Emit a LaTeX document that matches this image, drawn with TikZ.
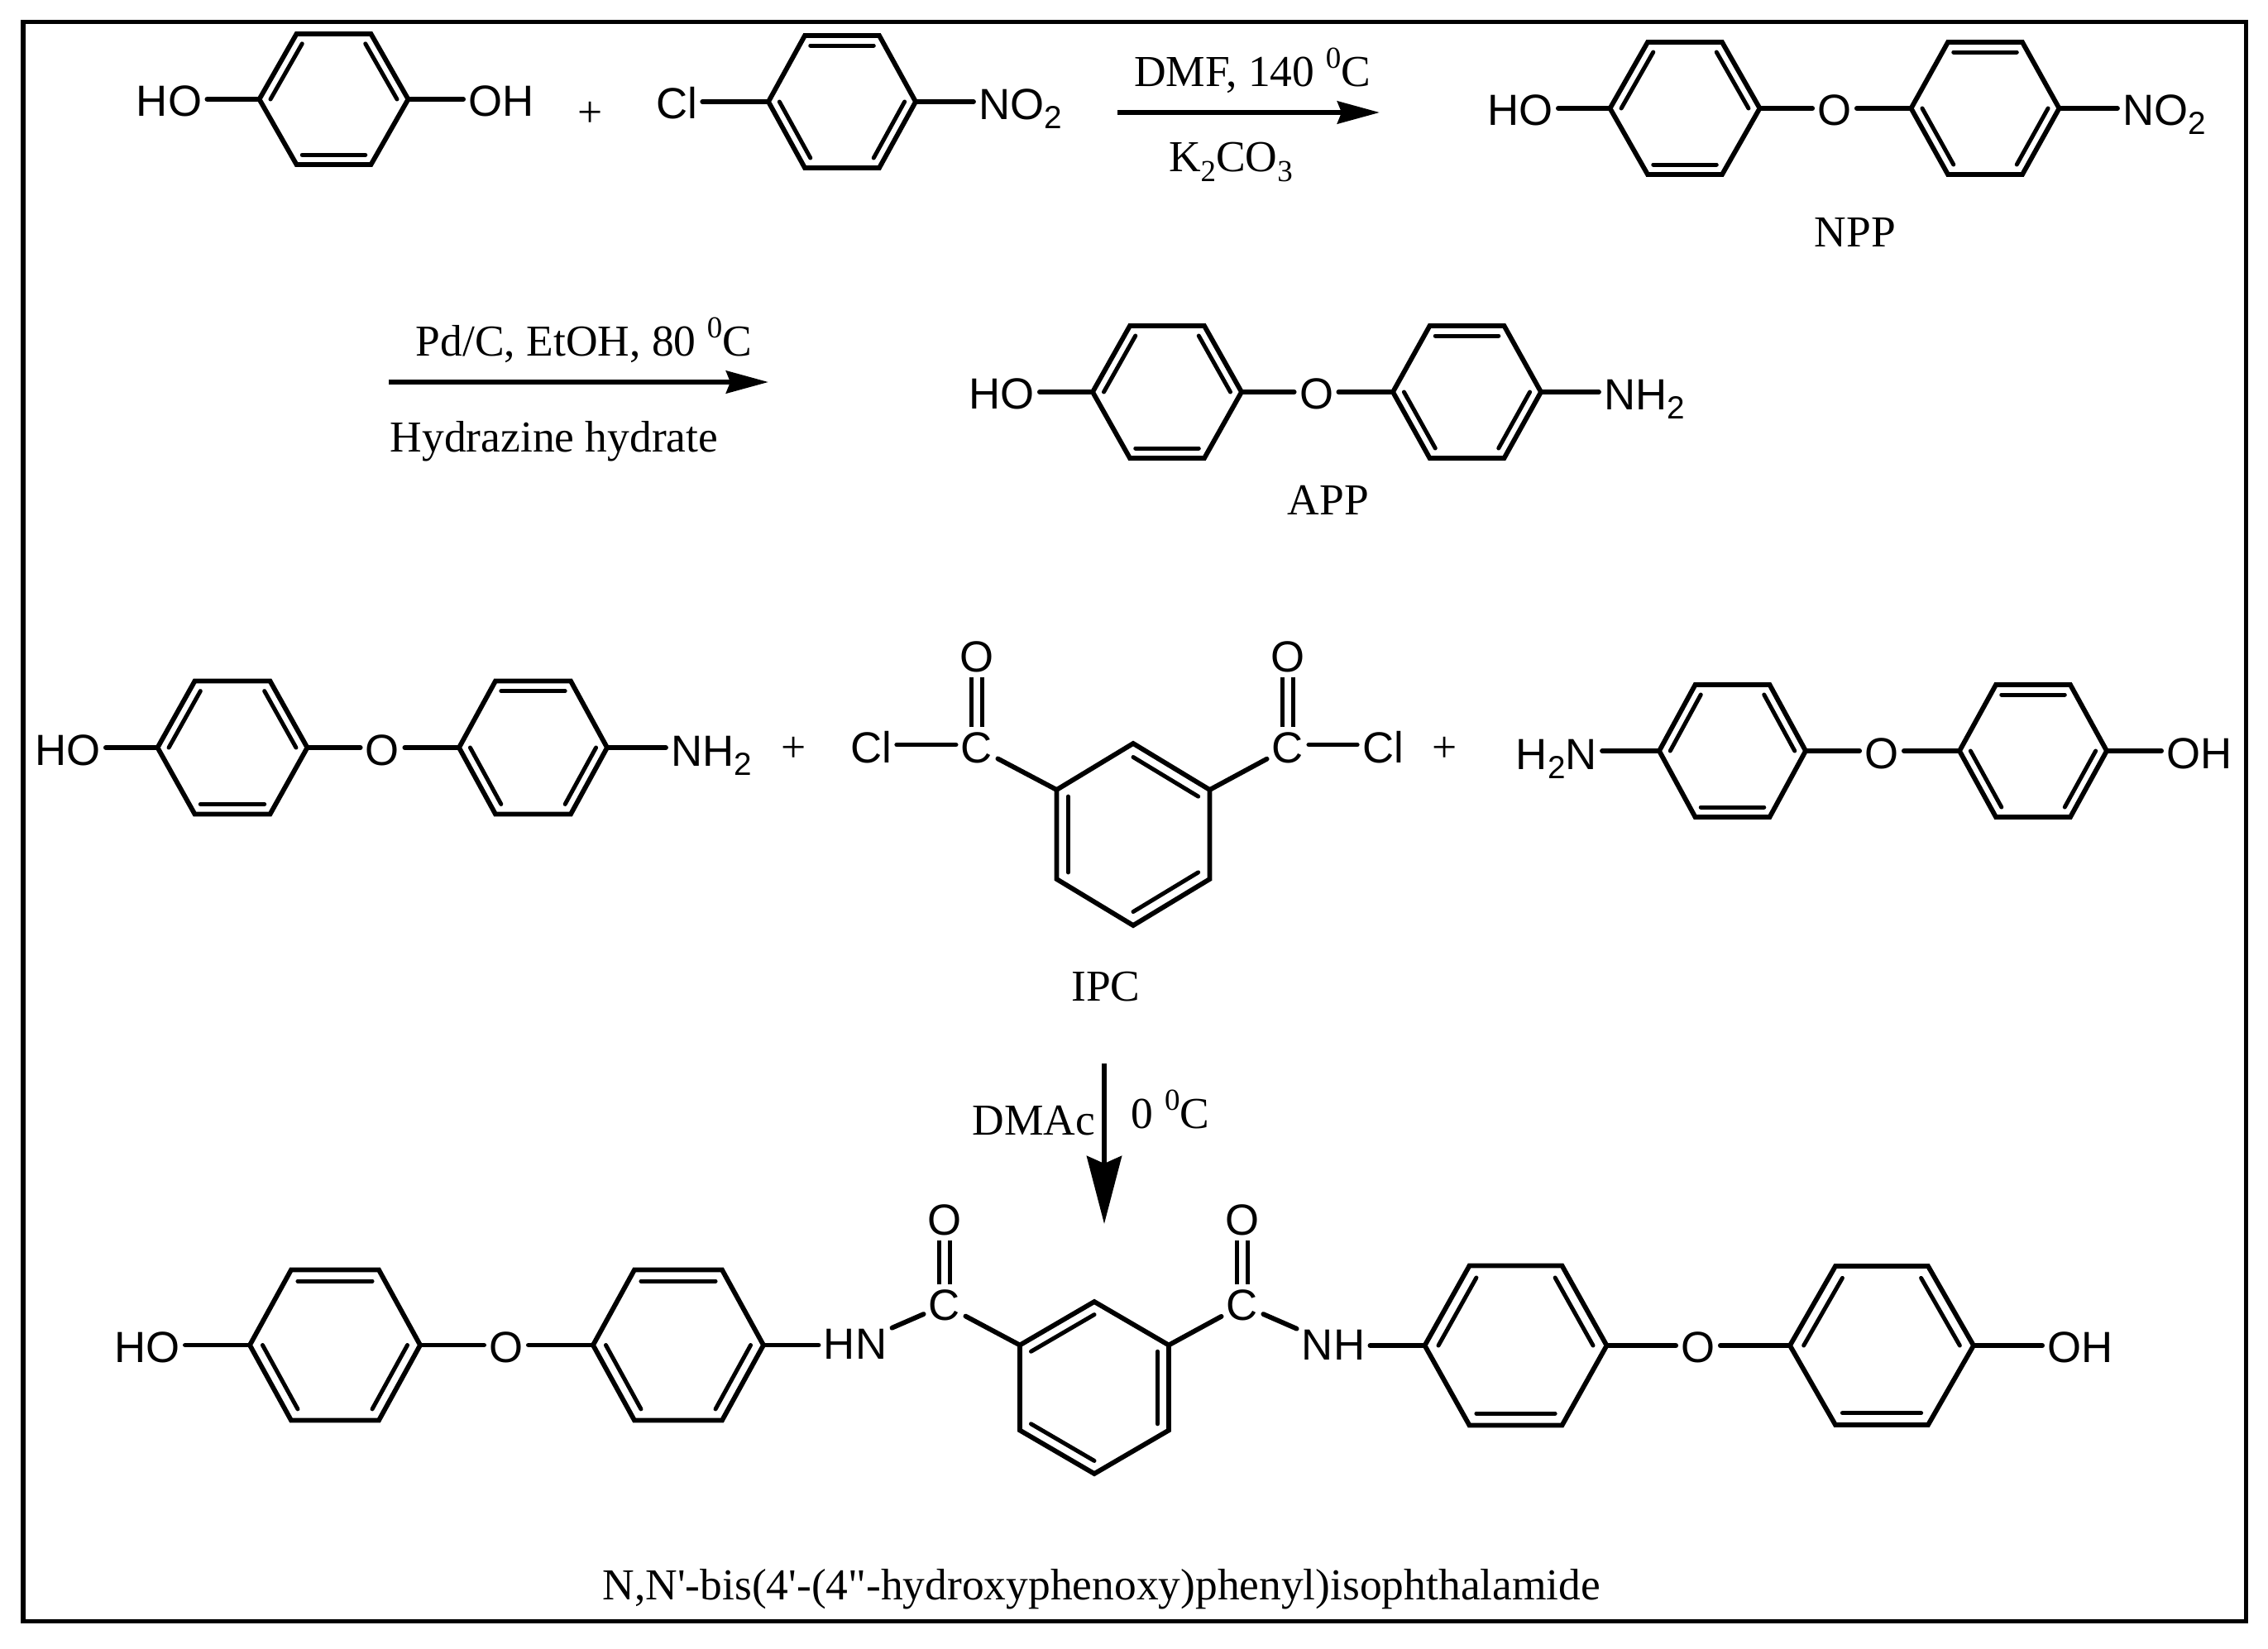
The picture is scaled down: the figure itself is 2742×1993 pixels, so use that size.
\documentclass[tikz,border=0pt]{standalone}
\usepackage{fontspec}
\setmainfont{Liberation Serif}
\newfontfamily\sansf{Liberation Sans}
\newfontfamily\plainserif[Ligatures=NoCommon]{Liberation Serif}
\usetikzlibrary{calc,arrows.meta}
\newcommand{\atsub}[1]{\raisebox{-3.3pt}{\fontsize{11}{12}\selectfont #1}}
\newcommand{\txsub}[1]{\raisebox{-3.6pt}{\fontsize{10.5}{12}\selectfont #1}}
\newcommand{\txsup}[1]{\raisebox{6pt}{\fontsize{10.5}{12}\selectfont #1}}
\newcommand{\innerb}[3]{\draw[innerbond] ($(#1)!0.85!(#1-#2)$) -- ($(#1)!0.85!(#1-#3)$);}
% name, cx, cy, half width, half height, half width of top edge
\newcommand{\hexbase}[6]{%
  \coordinate (#1) at (#2,#3);
  \coordinate (#1-L) at ({#2-#4},#3);
  \coordinate (#1-TL) at ({#2-#6},{#3-#5});
  \coordinate (#1-TR) at ({#2+#6},{#3-#5});
  \coordinate (#1-R) at ({#2+#4},#3);
  \coordinate (#1-BR) at ({#2+#6},{#3+#5});
  \coordinate (#1-BL) at ({#2-#6},{#3+#5});
  \draw[bond] (#1-L) -- (#1-TL) -- (#1-TR) -- (#1-R) -- (#1-BR) -- (#1-BL) -- cycle;
}
\newcommand{\hexA}[6]{\hexbase{#1}{#2}{#3}{#4}{#5}{#6}%
  \innerb{#1}{L}{TL}\innerb{#1}{TR}{R}\innerb{#1}{BL}{BR}}
\newcommand{\hexB}[6]{\hexbase{#1}{#2}{#3}{#4}{#5}{#6}%
  \innerb{#1}{TL}{TR}\innerb{#1}{L}{BL}\innerb{#1}{R}{BR}}
% pointy ring: name, cx, cy, half width, half height, half side
\newcommand{\hexV}[6]{%
  \coordinate (#1) at (#2,#3);
  \coordinate (#1-T) at (#2,{#3-#5});
  \coordinate (#1-UR) at ({#2+#4},{#3-#6});
  \coordinate (#1-LR) at ({#2+#4},{#3+#6});
  \coordinate (#1-B) at (#2,{#3+#5});
  \coordinate (#1-LL) at ({#2-#4},{#3+#6});
  \coordinate (#1-UL) at ({#2-#4},{#3-#6});
  \draw[bond] (#1-T) -- (#1-UR) -- (#1-LR) -- (#1-B) -- (#1-LL) -- (#1-UL) -- cycle;
}
\tikzset{
  bond/.style={line width=0.058cm,line cap=round,line join=miter},
  innerbond/.style={line width=0.05cm,line cap=round},
  dblbond/.style={line width=0.05cm,double,double distance=0.08cm},
  frameline/.style={line width=0.05cm},
  atom/.style={font=\sansf\fontsize{15}{17}\selectfont,inner sep=0pt,outer sep=1.8pt},
  atombase/.style={atom,anchor=base west},
  txt/.style={font=\fontsize{15.2}{18}\selectfont,inner sep=0pt,anchor=base},
  plusmark/.style={font=\fontsize{15.2}{18}\selectfont,inner sep=0pt},
  arrowh/.style={line width=0.06cm,-{Stealth[length=0.51cm,width=0.27cm,inset=0.05cm]}},
  arrowv/.style={line width=0.062cm,-{Stealth[length=0.82cm,width=0.42cm,inset=0.09cm]}}
}
\begin{document}
\begin{tikzpicture}[x=0.01cm,y=-0.01cm]
\useasboundingbox (0,0) rectangle (2742,1993);
\draw[frameline] (28,26) rectangle (2715,1960);

% Row 1: reactants
\hexA{ra}{403.5}{120}{90}{79}{45}
\node[atom] (raHO) at (204.5,122) {HO};
\node[atom] (raOH) at (606,122) {OH};
\draw[bond] (ra-L) -- (ra-L -| raHO.east);
\draw[bond] (ra-R) -- (ra-R -| raOH.west);
\node[plusmark] (plusa) at (714,138) {+};
\hexB{rb}{1018}{123}{89}{80}{45}
\node[atom] (rbCl) at (818,125) {Cl};
\node[atombase] (rbNO) at (1177,144) {NO\atsub{2}};
\draw[bond] (rb-L) -- (rb-L -| rbCl.east);
\draw[bond] (rb-R) -- (rb-R -| rbNO.west);

% Arrow 1
\coordinate (aas) at (1351,136);
\coordinate (aae) at (1668,136);
\draw[arrowh] (aas) -- (aae);
\node[txt] (aat) at (1514,104) {DMF, 140 \txsup{0}C};
\node[txt] (aab) at (1488,207) {K\txsub{2}CO\txsub{3}};

% NPP
\hexA{na}{2037}{131}{90.5}{80}{45}
\hexB{nb}{2400}{131}{89.5}{80}{45}
\node[atom] (naHO) at (1838,133) {HO};
\node[atom] (naO) at (2218,133) {O};
\node[atombase] (nbNO) at (2560,151) {NO\atsub{2}};
\draw[bond] (na-L) -- (na-L -| naHO.east);
\draw[bond] (na-R) -- (na-R -| naO.west);
\draw[bond] (nb-L) -- (nb-L -| naO.east);
\draw[bond] (nb-R) -- (nb-R -| nbNO.west);
\node[txt] (nlabel) at (2243,298) {NPP};

% Arrow 2
\coordinate (abs) at (470,462);
\coordinate (abe) at (929,462);
\draw[arrowh] (abs) -- (abe);
\node[txt] (abt) at (706,430) {Pd/C, EtOH, 80 \txsup{0}C};
\node[txt] (abb) at (670,546) {Hydrazine hydrate};

% APP
\hexA{pa}{1411}{474}{90}{80}{45}
\hexB{pb}{1773.5}{474}{89.5}{80}{45}
\node[atom] (paHO) at (1211,476) {HO};
\node[atom] (paO) at (1591.5,476) {O};
\node[atombase] (pbNH) at (1933,495) {NH\atsub{2}};
\draw[bond] (pa-L) -- (pa-L -| paHO.east);
\draw[bond] (pa-R) -- (pa-R -| paO.west);
\draw[bond] (pb-L) -- (pb-L -| paO.east);
\draw[bond] (pb-R) -- (pb-R -| pbNH.west);
\node[txt] (plabel) at (1606,622) {APP};

% Row 3 left
\hexA{la}{281}{904}{90.5}{80.5}{45.5}
\hexB{lb}{644.5}{904}{89.5}{80.5}{45.5}
\node[atom] (laHO) at (82,907) {HO};
\node[atom] (laO) at (462.5,907) {O};
\node[atombase] (lbNH) at (805,926) {NH\atsub{2}};
\draw[bond] (la-L) -- (la-L -| laHO.east);
\draw[bond] (la-R) -- (la-R -| laO.west);
\draw[bond] (lb-L) -- (lb-L -| laO.east);
\draw[bond] (lb-R) -- (lb-R -| lbNH.west);
\node[plusmark] (plusb) at (960,906) {+};

% IPC
\hexV{ic}{1370}{1009}{92.5}{110}{54}
\innerb{ic}{T}{UR}\innerb{ic}{UL}{LL}\innerb{ic}{LR}{B}
\node[atom] (icCl) at (1053,904) {Cl};
\node[atom] (icCa) at (1181,904) {C};
\node[atom] (icOa) at (1181,794) {O};
\node[atom] (icCb) at (1557,904) {C};
\node[atom] (icOb) at (1557,794) {O};
\node[atom] (icClb) at (1672,904) {Cl};
\draw[bond] ([yshift=1pt]icCl.east) -- ([yshift=1pt]icCa.west);
\draw[bond] ([yshift=1pt]icCb.east) -- ([yshift=1pt]icClb.west);
\draw[dblbond] (icCa) -- (icOa);
\draw[dblbond] (icCb) -- (icOb);
\draw[bond] (icCa) -- (ic-UL);
\draw[bond] (icCb) -- (ic-UR);
\node[txt] (ilabel) at (1337,1210) {IPC};
\node[plusmark] (plusc) at (1747,906) {+};

% Row 3 right
\hexA{ma}{2094.5}{908}{88.5}{80}{45}
\hexB{mb}{2458}{908}{89}{80}{45}
\node[atom,anchor=base east] (maNH) at (1937,930) {H\atsub{2}N};
\node[atom] (maO) at (2275,911) {O};
\node[atom] (mbOH) at (2659,911) {OH};
\draw[bond] (ma-L) -- (ma-L -| maNH.east);
\draw[bond] (ma-R) -- (ma-R -| maO.west);
\draw[bond] (mb-L) -- (mb-L -| maO.east);
\draw[bond] (mb-R) -- (mb-R -| mbOH.west);

% Arrow 3
\coordinate (acs) at (1335,1286);
\coordinate (ace) at (1335,1480);
\draw[arrowv] (acs) -- (ace);
\node[txt] (acl) at (1250,1372) {DMAc};
\node[txt] (acr) at (1415,1364) {0 \txsup{0}C};

% Product
\hexB{qa}{405}{1626.5}{103}{91}{53}
\hexB{qb}{820}{1626.5}{103}{91}{53}
\node[atom] (qaHO) at (178,1629) {HO};
\node[atom] (qaO) at (612,1629) {O};
\node[atom] (qbHN) at (1034,1625) {HN};
\draw[bond] (qa-L) -- (qa-L -| qaHO.east);
\draw[bond] (qa-R) -- (qa-R -| qaO.west);
\draw[bond] (qb-L) -- (qb-L -| qaO.east);
\draw[bond] (qb-R) -- (qb-R -| qbHN.west);

\hexV{qc}{1323}{1678}{90}{104}{51.5}
\innerb{qc}{UL}{T}\innerb{qc}{UR}{LR}\innerb{qc}{LL}{B}
\node[atom] (qcCa) at (1142,1578) {C};
\node[atom] (qcOa) at (1142,1475) {O};
\node[atom] (qcCb) at (1502,1578) {C};
\node[atom] (qcOb) at (1502,1475) {O};
\draw[dblbond] (qcCa) -- (qcOa);
\draw[dblbond] (qcCb) -- (qcOb);
\draw[bond] (qcCa) -- (qc-UL);
\draw[bond] (qcCb) -- (qc-UR);
\draw[bond] (qbHN) -- (qcCa);

\hexA{qd}{1832.5}{1627}{110}{96.5}{56}
\hexA{qe}{2275}{1627}{111}{96}{56}
\node[atom] (qdNH) at (1612,1626) {NH};
\node[atom] (qdO) at (2053,1629) {O};
\node[atom] (qeOH) at (2515,1629) {OH};
\draw[bond] (qdNH) -- (qcCb);
\draw[bond] (qd-L) -- (qd-L -| qdNH.east);
\draw[bond] (qd-R) -- (qd-R -| qdO.west);
\draw[bond] (qe-L) -- (qe-L -| qdO.east);
\draw[bond] (qe-R) -- (qe-R -| qeOH.west);

\node[txt,font=\plainserif\fontsize{15.2}{18}\selectfont] (title) at (1332,1934) {N,N'-bis(4'-(4"-hydroxyphenoxy)phenyl)isophthalamide};
\end{tikzpicture}
\end{document}
